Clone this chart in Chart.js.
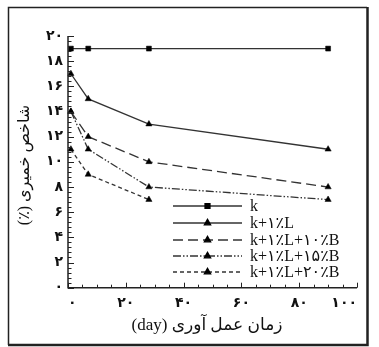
<!DOCTYPE html>
<html><head><meta charset="utf-8">
<script src="https://cdn.jsdelivr.net/npm/chart.js@4/dist/chart.umd.min.js"></script>
<style>html,body{margin:0;padding:0;background:#fff}#wrap{width:379px;height:347px}</style>
</head><body><div id="wrap"><canvas id="c" width="379" height="347"></canvas></div>
<script>
const days = [1, 7, 28, 90];
const seriesLabels = ['k', 'k+۱٪L', 'k+۱٪L+۱۰٪B', 'k+۱٪L+۱۵٪B', 'k+۱٪L+۲۰٪B'];
const kValues = [19, 19, 19, 19];
const kL1Values = [17, 15, 13, 11];
const kL1B10Values = [14, 12, 10, 8];
const kL1B15Values = [14, 11, 8, 7];
const kL1B20Values = [11, 9, 7];
const yTickLabels = ['۰', '۲', '۴', '۶', '۸', '۱۰', '۱۲', '۱۴', '۱۶', '۱۸', '۲۰'];
const xTickLabels = ['۰', '۲۰', '۴۰', '۶۰', '۸۰', '۱۰۰'];
const xTitle = 'زمان عمل آوری (day)';
const yTitle = 'شاخص خمیری (٪)';

const allValues = [kValues, kL1Values, kL1B10Values, kL1B15Values, kL1B20Values];
const dashes = [[], [], [10, 5], [8, 2, 1.5, 2, 1.5, 2], [4, 3]];
const styles = ['rect', 'triangle', 'triangle', 'triangle', 'triangle'];
const LINE = '#333';

const datasets = allValues.map((vals, i) => ({
  label: seriesLabels[i],
  data: vals.map((v, j) => ({x: days[j], y: v})),
  borderColor: LINE,
  borderWidth: 1.3,
  borderDash: dashes[i],
  pointStyle: styles[i],
  pointRadius: i === 0 ? 3.5 : 3.6,
  pointBackgroundColor: '#000',
  pointBorderColor: '#000',
  pointBorderWidth: 0.5,
  fill: false,
  tension: 0,
  clip: false
}));

const decor = {
  id: 'decor',
  beforeDraw(chart) {
    const c = chart.ctx;
    c.save(); c.fillStyle = '#fff'; c.fillRect(0, 0, chart.width, chart.height); c.restore();
  },
  afterDraw(chart) {
    const c = chart.ctx;
    const xs = chart.scales.x, ys = chart.scales.y;
    const L = xs.getPixelForValue(0), R = xs.getPixelForValue(100);
    const T = ys.getPixelForValue(20), B = ys.getPixelForValue(0);
    c.save();
    c.strokeStyle = '#222';
    c.lineWidth = 1.5;
    c.setLineDash([]);
    c.beginPath();
    c.moveTo(L, T); c.lineTo(L, B); c.lineTo(R, B);
    c.stroke();
    c.lineWidth = 1;
    // y ticks
    for (let k = 0; k <= 50; k++) {
      const v = k * 0.4;
      const y = Math.round(ys.getPixelForValue(v)) + 0.5;
      const len = (k % 5 === 0) ? 6 : 3.5;
      c.beginPath(); c.moveTo(L, y); c.lineTo(L + len, y); c.stroke();
    }
    // x ticks
    for (let v = 0; v <= 100; v += 5) {
      const x = Math.round(xs.getPixelForValue(v)) + 0.5;
      const len = (v % 20 === 0) ? 5 : 3;
      c.beginPath(); c.moveTo(x, B); c.lineTo(x, B - len); c.stroke();
    }
    // legend
    const lx0 = 173, lx1 = 242, tx = 250;
    const rows = [206, 223, 240, 256, 272];
    chart.data.datasets.forEach((ds, i) => {
      const y = rows[i];
      c.strokeStyle = LINE; c.lineWidth = 1.3;
      c.setLineDash(ds.borderDash);
      c.beginPath(); c.moveTo(lx0, y); c.lineTo(lx1, y); c.stroke();
      c.setLineDash([]);
      c.fillStyle = '#000'; c.strokeStyle = '#000';
      Chart.helpers.drawPoint(c, {pointStyle: ds.pointStyle, radius: ds.pointRadius, rotation: 0, borderWidth: 0.5}, (lx0 + lx1) / 2, y);
      c.fillStyle = '#111';
      c.font = '16px "Liberation Serif", "DejaVu Sans"';
      c.textAlign = 'left'; c.textBaseline = 'middle';
      c.fillText(ds.label, tx, y + 1);
    });
    // titles
    c.fillStyle = '#111';
    c.direction = 'rtl';
    c.textAlign = 'center'; c.textBaseline = 'middle';
    c.font = '17px "Liberation Serif", "DejaVu Sans"';
    c.fillText(xTitle, 207, 326);
    c.font = '16px "Liberation Serif", "DejaVu Sans"';
    c.save();
    c.translate(25, 165);
    c.rotate(-Math.PI / 2);
    c.fillText(yTitle, 0, 0);
    c.restore();
    c.direction = 'ltr';
    // frame
    c.strokeStyle = '#222';
    c.lineWidth = 1.5;
    c.beginPath(); c.moveTo(8.5, 345); c.lineTo(8.5, 7.5); c.lineTo(367, 7.5); c.stroke();
    c.lineWidth = 2.5;
    c.beginPath(); c.moveTo(367.5, 7); c.lineTo(367.5, 345); c.lineTo(8, 345); c.stroke();
    c.restore();
  }
};

new Chart(document.getElementById('c'), {
  type: 'line',
  data: {datasets},
  options: {
    responsive: false,
    devicePixelRatio: 1,
    animation: false,
    layout: {padding: {left: 0, right: 22, top: 36, bottom: 0}},
    plugins: {legend: {display: false}, tooltip: {enabled: false}},
    scales: {
      x: {
        type: 'linear', min: 0, max: 100,
        grid: {display: false, drawTicks: false},
        border: {display: false},
        ticks: {
          stepSize: 10, autoSkip: false, maxRotation: 0, padding: 7, align: 'inner',
          color: '#111', font: {family: 'DejaVu Sans', size: 14, weight: 'bold'},
          callback: (v) => (v % 20 === 0 ? xTickLabels[v / 20] : '')
        },
        afterFit: (s) => { s.height = 59.3; }
      },
      y: {
        type: 'linear', min: 0, max: 20,
        grid: {display: false, drawTicks: false},
        border: {display: false},
        ticks: {
          stepSize: 2, padding: 5,
          color: '#111', font: {family: 'DejaVu Sans', size: 14, weight: 'bold'},
          callback: (v) => yTickLabels[Math.round(v / 2)]
        },
        afterFit: (s) => { s.height = s.height; s.width = 68; }
      }
    }
  },
  plugins: [decor]
});
</script>
</body></html>
